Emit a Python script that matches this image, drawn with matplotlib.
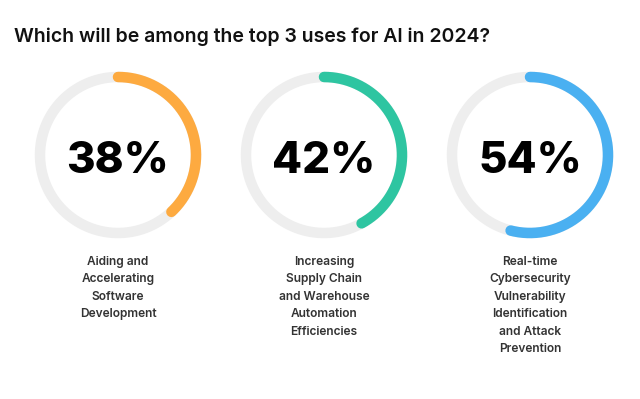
import numpy as np
import matplotlib
matplotlib.use("Agg")
import matplotlib.pyplot as plt

title = "Which will be among the top 3 uses for AI in 2024?"
values = [38, 42, 54]
labels = [
    "Aiding and\nAccelerating\nSoftware\nDevelopment",
    "Increasing\nSupply Chain\nand Warehouse\nAutomation\nEfficiencies",
    "Real-time\nCybersecurity\nVulnerability\nIdentification\nand Attack\nPrevention",
]
colors = ["#FDAA40", "#2EC5A1", "#4AB0F1"]

W, H = 640, 399
fig = plt.figure(figsize=(W / 100, H / 100), dpi=100)
ax = fig.add_axes([0, 0, 1, 1])
ax.set_xlim(0, W)
ax.set_ylim(H, 0)
ax.axis("off")

cx0, dx, cy, r = 118, 206, 155, 78
lw = 10.5 * 72 / 100

t_full = np.linspace(0, 2 * np.pi, 400)
for i, (v, lab, c) in enumerate(zip(values, labels, colors)):
    cx = cx0 + i * dx
    ax.plot(cx + r * np.sin(t_full), cy - r * np.cos(t_full), color="#EEEEEE", lw=lw,
            solid_capstyle="butt", zorder=1)
    t = np.linspace(0, 2 * np.pi * v / 100, 300)
    ax.plot(cx + r * np.sin(t), cy - r * np.cos(t), color=c, lw=lw,
            solid_capstyle="round", zorder=2)
    ax.text(cx, 173, f"{v}%", ha="center", va="baseline", fontsize=31.5,
            fontweight="heavy", family="Inter", color="black")
    ax.text(cx, 256, lab, ha="center", va="top", fontsize=8.6, fontweight="semibold",
            family="Inter", color="#333333", linespacing=1.6)

ax.text(14, 37, title, ha="left", va="center", fontsize=14, fontweight="semibold",
        family="Inter", color="#111111")

fig.savefig("out.png", dpi=100, facecolor="white")
